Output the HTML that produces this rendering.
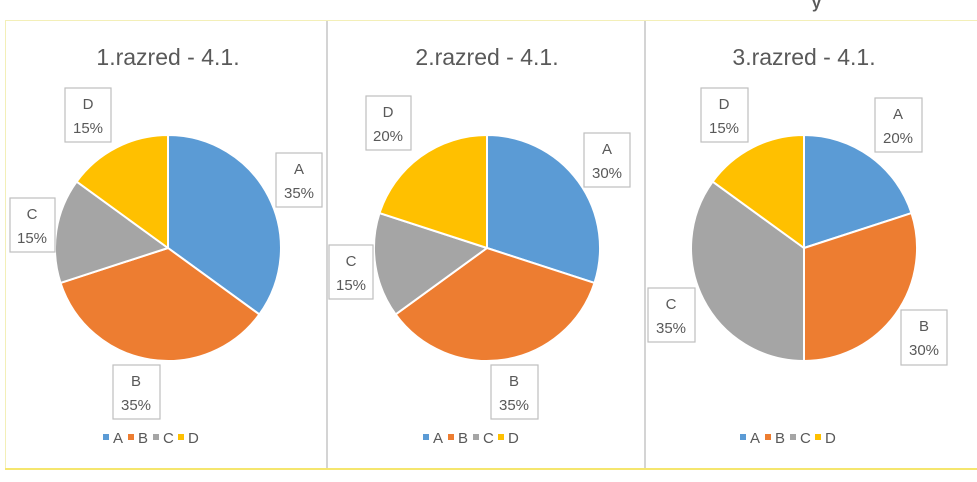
<!DOCTYPE html>
<html><head><meta charset="utf-8"><style>
html,body{margin:0;padding:0;background:#fff;}
svg{display:block;}
text{font-family:"Liberation Sans",sans-serif;fill:#595959;}
</style></head><body>
<svg width="977" height="482" viewBox="0 0 977 482" xmlns="http://www.w3.org/2000/svg">
<rect x="0" y="0" width="977" height="482" fill="#fff"/>
<text x="812" y="8" font-size="16" fill="#222" font-weight="bold">y</text>
<line x1="5" y1="20.5" x2="977" y2="20.5" stroke="#f3efb8" stroke-width="1"/>
<line x1="5.5" y1="20" x2="5.5" y2="468" stroke="#f3efb8" stroke-width="1"/>
<line x1="5" y1="469" x2="977" y2="469" stroke="#f5e66e" stroke-width="2"/>
<line x1="327" y1="21" x2="327" y2="468" stroke="#d4d4d4" stroke-width="2"/>
<line x1="645" y1="21" x2="645" y2="468" stroke="#d4d4d4" stroke-width="2"/>

<g font-size="23" text-anchor="middle">
<text x="168" y="65">1.razred - 4.1.</text>
<text x="487" y="65">2.razred - 4.1.</text>
<text x="804" y="65">3.razred - 4.1.</text>
</g>

<g stroke="#fff" stroke-width="2" stroke-linejoin="round">
<!-- Pie 1 -->
<path d="M168,248 L168,135 A113,113 0 0 1 259.4,314.4 Z" fill="#5B9BD5"/>
<path d="M168,248 L259.4,314.4 A113,113 0 0 1 60.5,282.9 Z" fill="#ED7D31"/>
<path d="M168,248 L60.5,282.9 A113,113 0 0 1 76.6,181.6 Z" fill="#A5A5A5"/>
<path d="M168,248 L76.6,181.6 A113,113 0 0 1 168,135 Z" fill="#FFC000"/>
<!-- Pie 2 -->
<path d="M487,248 L487,135 A113,113 0 0 1 594.5,282.9 Z" fill="#5B9BD5"/>
<path d="M487,248 L594.5,282.9 A113,113 0 0 1 395.6,314.4 Z" fill="#ED7D31"/>
<path d="M487,248 L395.6,314.4 A113,113 0 0 1 379.5,213.1 Z" fill="#A5A5A5"/>
<path d="M487,248 L379.5,213.1 A113,113 0 0 1 487,135 Z" fill="#FFC000"/>
<!-- Pie 3 -->
<path d="M804,248 L804,135 A113,113 0 0 1 911.5,213.1 Z" fill="#5B9BD5"/>
<path d="M804,248 L911.5,213.1 A113,113 0 0 1 804,361 Z" fill="#ED7D31"/>
<path d="M804,248 L804,361 A113,113 0 0 1 712.6,181.6 Z" fill="#A5A5A5"/>
<path d="M804,248 L712.6,181.6 A113,113 0 0 1 804,135 Z" fill="#FFC000"/>
</g>

<g fill="#fff" stroke="#bfbfbf" stroke-width="1.2">
<rect x="65" y="88" width="46" height="54"/>
<rect x="276" y="153" width="46" height="54"/>
<rect x="10" y="198" width="45" height="54"/>
<rect x="113" y="365" width="47" height="54"/>
<rect x="366" y="96" width="45" height="54"/>
<rect x="584" y="133" width="46" height="54"/>
<rect x="329" y="245" width="44" height="54"/>
<rect x="491" y="365" width="47" height="54"/>
<rect x="701" y="88" width="47" height="54"/>
<rect x="875" y="98" width="47" height="54"/>
<rect x="648" y="288" width="47" height="54"/>
<rect x="901" y="310" width="46" height="55"/>
</g>

<g font-size="15" text-anchor="middle">
<text x="88" y="109">D</text><text x="88" y="133">15%</text>
<text x="299" y="174">A</text><text x="299" y="198">35%</text>
<text x="32" y="219">C</text><text x="32" y="243">15%</text>
<text x="136" y="386">B</text><text x="136" y="410">35%</text>
<text x="388" y="117">D</text><text x="388" y="141">20%</text>
<text x="607" y="154">A</text><text x="607" y="178">30%</text>
<text x="351" y="266">C</text><text x="351" y="290">15%</text>
<text x="514" y="386">B</text><text x="514" y="410">35%</text>
<text x="724" y="109">D</text><text x="724" y="133">15%</text>
<text x="898" y="119">A</text><text x="898" y="143">20%</text>
<text x="671" y="309">C</text><text x="671" y="333">35%</text>
<text x="924" y="331">B</text><text x="924" y="355">30%</text>
</g>

<g font-size="15">
<g transform="translate(103,0)">
<rect x="0" y="434" width="6" height="6" fill="#5B9BD5"/><text x="10" y="443">A</text>
<rect x="25" y="434" width="6" height="6" fill="#ED7D31"/><text x="35" y="443">B</text>
<rect x="50" y="434" width="6" height="6" fill="#A5A5A5"/><text x="60" y="443">C</text>
<rect x="75" y="434" width="6" height="6" fill="#FFC000"/><text x="85" y="443">D</text>
</g>
<g transform="translate(423,0)">
<rect x="0" y="434" width="6" height="6" fill="#5B9BD5"/><text x="10" y="443">A</text>
<rect x="25" y="434" width="6" height="6" fill="#ED7D31"/><text x="35" y="443">B</text>
<rect x="50" y="434" width="6" height="6" fill="#A5A5A5"/><text x="60" y="443">C</text>
<rect x="75" y="434" width="6" height="6" fill="#FFC000"/><text x="85" y="443">D</text>
</g>
<g transform="translate(740,0)">
<rect x="0" y="434" width="6" height="6" fill="#5B9BD5"/><text x="10" y="443">A</text>
<rect x="25" y="434" width="6" height="6" fill="#ED7D31"/><text x="35" y="443">B</text>
<rect x="50" y="434" width="6" height="6" fill="#A5A5A5"/><text x="60" y="443">C</text>
<rect x="75" y="434" width="6" height="6" fill="#FFC000"/><text x="85" y="443">D</text>
</g>
</g>
</svg>
</body></html>
